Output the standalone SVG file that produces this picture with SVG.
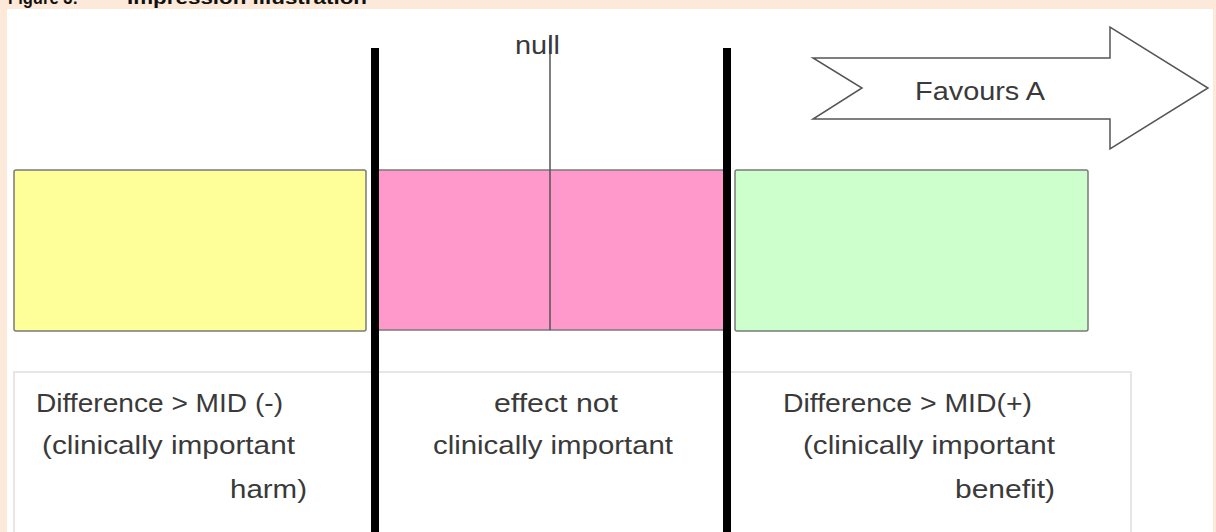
<svg xmlns="http://www.w3.org/2000/svg" width="1216" height="532" viewBox="0 0 1216 532">
<style>
.t{font-family:"Liberation Sans",Arial,sans-serif;font-size:26px;fill:#3a3a3a}
.title{font-family:"Liberation Sans",Arial,sans-serif;font-size:18px;font-weight:bold;fill:#111}
.box{stroke:#7a7a7a;stroke-width:1.5}
.bar{stroke:#000;stroke-width:8}
</style>
<rect x="0" y="0" width="1216" height="532" fill="#fde9d9"/>
<rect x="7" y="9" width="1206" height="523" fill="#fff"/>
<g id="title">
<text class="title" x="8" y="4" textLength="70" lengthAdjust="spacingAndGlyphs">Figure 3:</text>
<text class="title" x="127" y="4" textLength="240" lengthAdjust="spacingAndGlyphs">Impression illustration</text>
</g>
<g id="label-panel">
<path d="M14,532 V372 H1131 V532" fill="none" stroke="#e6e6e6" stroke-width="2"/>
</g>
<g id="harm">
<rect class="box" x="14" y="170" width="352" height="161" rx="2" fill="#ffff99"/>
<text class="t" x="36" y="412" textLength="247" lengthAdjust="spacingAndGlyphs">Difference &gt; MID (-)</text>
<text class="t" x="42" y="454" textLength="253" lengthAdjust="spacingAndGlyphs">(clinically important</text>
<text class="t" x="230" y="498" textLength="77" lengthAdjust="spacingAndGlyphs">harm)</text>
</g>
<g id="not-important">
<rect class="box" x="376" y="170" width="348" height="160" fill="#ff99cc"/>
<text class="t" x="494" y="412" textLength="124" lengthAdjust="spacingAndGlyphs">effect not</text>
<text class="t" x="433" y="454" textLength="240" lengthAdjust="spacingAndGlyphs">clinically important</text>
</g>
<g id="benefit">
<rect class="box" x="735" y="170" width="353" height="161" rx="2" fill="#ccffcc"/>
<text class="t" x="783" y="412" textLength="249" lengthAdjust="spacingAndGlyphs">Difference &gt; MID(+)</text>
<text class="t" x="803" y="454" textLength="252" lengthAdjust="spacingAndGlyphs">(clinically important</text>
<text class="t" x="955" y="498" textLength="100" lengthAdjust="spacingAndGlyphs">benefit)</text>
</g>
<g id="connectors">
<line x1="550" y1="38" x2="550" y2="330" stroke="#555" stroke-width="1.5"/>
<line class="bar" x1="375" y1="48" x2="375" y2="532"/>
<line class="bar" x1="727" y1="48" x2="727" y2="532"/>
</g>
<g id="null">
<text class="t" x="515" y="54" textLength="45" lengthAdjust="spacingAndGlyphs">null</text>
</g>
<g id="favours-a">
<polygon points="813,58 1110,58 1110,27 1208,88 1110,149 1110,119 813,119 862,88" fill="#fff" stroke="#555" stroke-width="1.5" stroke-linejoin="miter"/>
<text class="t" x="915" y="100" textLength="130" lengthAdjust="spacingAndGlyphs" style="font-size:25px">Favours A</text>
</g>
</svg>
